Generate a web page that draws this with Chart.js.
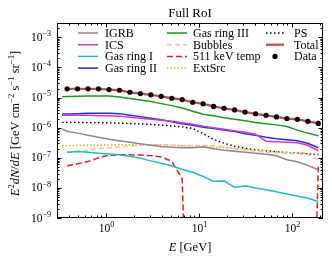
<!DOCTYPE html>
<html>
<head>
<meta charset="utf-8">
<script src="https://cdn.jsdelivr.net/npm/chart.js@4.4.0/dist/chart.umd.min.js"></script>
<style>
  html, body { margin: 0; padding: 0; background: #fff; }
  #chart { display: block; }
</style>
</head>
<body>
<canvas id="chart" width="332" height="262"></canvas>
<script>
// energies of the data bins [GeV]
const dataE = [0.385, 0.499, 0.647, 0.838, 1.086, 1.408, 1.825, 2.365, 3.065, 3.97, 5.15, 6.67, 8.65,
  11.2, 14.5, 18.8, 24.4, 31.6, 41.0, 53.1, 68.8, 89.2, 115.6, 149.8, 194];
// model curves are sampled from the left edge plus the bin energies
const modelE = [0.34, ...dataE];

const dataFlux = [1.95e-5, 1.95e-5, 1.95e-5, 1.95e-5, 1.85e-5, 1.75e-5, 1.5e-5, 1.36e-5, 1.23e-5, 1.1e-5, 9.5e-6, 8.6e-6,
  7.0e-6, 6.2e-6, 5.1e-6, 4.4e-6, 3.9e-6, 3.3e-6, 2.9e-6, 2.57e-6, 2.28e-6, 2.0e-6, 1.9e-6, 1.62e-6, 1.39e-6];
const total = [null, 1.95e-5, 1.95e-5, 1.95e-5, 1.95e-5, 1.85e-5, 1.75e-5, 1.5e-5, 1.36e-5, 1.23e-5, 1.1e-5, 9.5e-6, 8.6e-6,
  7.0e-6, 6.2e-6, 5.1e-6, 4.4e-6, 3.9e-6, 3.3e-6, 2.9e-6, 2.57e-6, 2.28e-6, 2.0e-6, 1.9e-6, 1.62e-6, 1.39e-6];
const igrb = [9.1e-7, 7.6e-7, 6.6e-7, 5.6e-7, 4.8e-7, 4.1e-7, 3.69e-7, 3.29e-7, 2.93e-7, 2.61e-7, 2.36e-7, 2.24e-7, 2.15e-7,
  2.15e-7, 2.33e-7, 2.0e-7, 1.78e-7, 1.65e-7, 1.52e-7, 1.41e-7, 1.31e-7, 1.17e-7, 8.6e-8, 7.4e-8, 5.6e-8, 4.0e-8];
const ics = [2.61e-6, 2.61e-6, 2.61e-6, 2.57e-6, 2.51e-6, 2.51e-6, 2.42e-6, 2.24e-6, 2.07e-6, 1.92e-6, 1.78e-6, 1.65e-6, 1.47e-6,
  1.31e-6, 1.12e-6, 1.0e-6, 8.9e-7, 7.9e-7, 7.1e-7, 6.1e-7, 3.55e-7, 3.41e-7, 3.29e-7, 3.16e-7, 2.61e-7, 1.71e-7];
const gasRing1 = [null, 1.52e-7, 1.62e-7, 1.52e-7, 1.41e-7, 1.33e-7, 1.26e-7, 1.12e-7, 9.6e-8, 7.9e-8, 6.6e-8, 5.4e-8, 4.1e-8,
  3.29e-8, 2.38e-8, 1.65e-8, 1.71e-8, 1.04e-8, 1.17e-8, 1.0e-8, 8.7e-9, 7.4e-9, 6.3e-9, 5.4e-9, 4.5e-9, 3.55e-9];
const gasRing2 = [2.86e-6, 2.86e-6, 2.93e-6, 3.0e-6, 3.04e-6, 3.04e-6, 2.93e-6, 2.61e-6, 2.33e-6, 2.07e-6, 1.85e-6, 1.58e-6, 1.36e-6,
  1.21e-6, 1.04e-6, 9.3e-7, 8.3e-7, 7.4e-7, 6.3e-7, 5.6e-7, 4.8e-7, 4.3e-7, 4.0e-7, 3.69e-7, 3.04e-7, 2.15e-7];
const gasRing3 = [1.07e-5, 1.08e-5, 1.10e-5, 1.12e-5, 1.12e-5, 1.12e-5, 1.04e-5, 9.3e-6, 8.3e-6, 7.4e-6, 6.3e-6, 5.4e-6, 4.5e-6,
  3.5e-6, 2.8e-6, 2.47e-6, 2.15e-6, 1.92e-6, 1.69e-6, 1.49e-6, 1.36e-6, 1.24e-6, 1.10e-6, 8.3e-7, 6.6e-7, 5.4e-7];
const bubbles = [null, 1.52e-7, 1.65e-7, 1.78e-7, 2.0e-7, 2.15e-7, 2.33e-7, 2.45e-7, 2.61e-7, 2.71e-7, 2.71e-7, 2.61e-7, 2.51e-7,
  2.42e-7, 2.61e-7, 2.51e-7, 2.33e-7, 2.0e-7, 1.78e-7, 1.65e-7, 1.52e-7, 1.47e-7, 1.41e-7, 1.36e-7, 1.26e-7, 8.6e-8];
const kev511 = [null, 5.4e-8, 6.3e-8, 7.5e-8, 1.0e-7, 1.21e-7, 1.26e-7, 1.26e-7, 1.23e-7, 1.18e-7, 1.07e-7, 7.6e-8, 2.0e-8,
  1e-20, 1e-20, 1e-20, 1e-20, 1e-20, 1e-20, 1e-20, 1e-20, 1e-20, 1e-20, 1e-20, 1e-20, 5e-8];
const extSrc = [2.47e-7, 2.51e-7, 2.55e-7, 2.59e-7, 2.63e-7, 2.67e-7, 2.71e-7, 2.71e-7, 2.71e-7, 2.71e-7, 2.71e-7, 2.61e-7, 2.51e-7,
  2.42e-7, 2.33e-7, 2.24e-7, 2.15e-7, 2.07e-7, 1.92e-7, 1.78e-7, 1.71e-7, 1.58e-7, 1.52e-7, 1.44e-7, 1.39e-7, 1.33e-7];
const ps = [1.5e-6, 1.5e-6, 1.5e-6, 1.47e-6, 1.47e-6, 1.45e-6, 1.41e-6, 1.38e-6, 1.34e-6, 1.28e-6, 1.21e-6, 1.14e-6, 1.06e-6,
  9.4e-7, 6.3e-7, 4.1e-7, 3.04e-7, 2.42e-7, 2.07e-7, 1.85e-7, 1.71e-7, 1.58e-7, 1.50e-7, 1.44e-7, 1.36e-7, 1.26e-7];

const xTicks = [1, 10, 100];
const yTicks = [1e-9, 1e-8, 1e-7, 1e-6, 1e-5, 1e-4, 1e-3];
const legendColumns = [
  ["IGRB", "ICS", "Gas ring I", "Gas ring II"],
  ["Gas ring III", "Bubbles", "511 keV temp", "ExtSrc"],
  ["PS", "Total", "Data"],
];

const serif = '"Liberation Serif", "Times New Roman", serif';
const pts = (xs, ys) => xs.map((e, i) => ({ x: e, y: ys[i] }));

const line = (label, ys, color, extra) => Object.assign({
  label: label,
  data: pts(modelE, ys),
  borderColor: color,
  backgroundColor: color,
  borderWidth: 1.5,
  pointRadius: 0,
  fill: false,
  tension: 0,
  order: 5,
}, extra || {});

// draws a run of text pieces: {t, it (italic), sup (superscript)}
function richWidth(ctx, parts, size) {
  let w = 0;
  parts.forEach(p => {
    const s = p.sup ? size * 0.7 : size;
    ctx.font = (p.it ? "italic " : "") + s + "px " + serif;
    w += ctx.measureText(p.t).width;
  });
  return w;
}
function drawRich(ctx, parts, x, y, size, align) {
  const w = richWidth(ctx, parts, size);
  let cx = align === "right" ? x - w : align === "center" ? x - w / 2 : x;
  ctx.textAlign = "left";
  ctx.textBaseline = "alphabetic";
  parts.forEach(p => {
    const s = p.sup ? size * 0.7 : size;
    ctx.font = (p.it ? "italic " : "") + s + "px " + serif;
    ctx.fillText(p.t, cx, p.sup ? y - size * 0.4 : y);
    cx += ctx.measureText(p.t).width;
  });
}
const supNum = n => String(n).replace("-", "\u2212");

const framePlugin = {
  id: "frame",
  afterDatasetsDraw(chart) {
    const { ctx, chartArea: a, scales } = chart;
    const xs = scales.x, ys = scales.y;
    ctx.save();
    ctx.strokeStyle = "#000";
    ctx.fillStyle = "#000";
    ctx.lineWidth = 1;

    // ticks, pointing inwards on all four sides
    const tick = (px, len, vertical) => {
      ctx.beginPath();
      const p = Math.round(px) + 0.5;
      if (vertical) {
        ctx.moveTo(p, a.bottom); ctx.lineTo(p, a.bottom - len);
        ctx.moveTo(p, a.top); ctx.lineTo(p, a.top + len);
      } else {
        ctx.moveTo(a.left, p); ctx.lineTo(a.left + len, p);
        ctx.moveTo(a.right, p); ctx.lineTo(a.right - len, p);
      }
      ctx.stroke();
    };
    [0.1, 1, 10, 100].forEach(d => {
      for (let m = 1; m < 10; m++) {
        const v = m * d;
        if (v < xs.min || v > xs.max) continue;
        tick(xs.getPixelForValue(v), m === 1 ? 4.5 : 2.5, true);
      }
    });
    for (let k = -9; k <= -3; k++) {
      for (let m = 1; m < 10; m++) {
        const v = m * Math.pow(10, k);
        if (v < ys.min || v > ys.max * 1.0001) continue;
        tick(ys.getPixelForValue(v), m === 1 ? 4.5 : 2.5, false);
      }
    }
    ctx.strokeRect(Math.round(a.left) + 0.5, Math.round(a.top) + 0.5,
      Math.round(a.right - a.left) - 1, Math.round(a.bottom - a.top) - 1);

    // tick labels
    xTicks.forEach(v => {
      const e = Math.round(Math.log10(v));
      drawRich(ctx, [{ t: "10" }, { t: supNum(e), sup: true }], xs.getPixelForValue(v) + 1, a.bottom + 14, 11.5, "center");
    });
    yTicks.forEach(v => {
      const e = Math.round(Math.log10(v));
      drawRich(ctx, [{ t: "10" }, { t: supNum(e), sup: true }], a.left - 6, ys.getPixelForValue(v) + 3.5, 11.5, "right");
    });

    // axis titles and plot title
    drawRich(ctx, [{ t: "E", it: true }, { t: " [GeV]" }], (a.left + a.right) / 2, 251, 12.5, "center");
    drawRich(ctx, [{ t: "Full RoI" }], (a.left + a.right) / 2, 17, 13, "center");
    ctx.save();
    ctx.translate(19, (a.top + a.bottom) / 2 + 3);
    ctx.rotate(-Math.PI / 2);
    drawRich(ctx, [
      { t: "E", it: true }, { t: "2", sup: true }, { t: "dN", it: true }, { t: "/" }, { t: "dE", it: true },
      { t: " [GeV cm" }, { t: "\u22122", sup: true }, { t: " s" }, { t: "\u22121", sup: true },
      { t: " sr" }, { t: "\u22121", sup: true }, { t: "]" },
    ], 0, 0, 12.5, "center");
    ctx.restore();

    // legend in three columns
    const colX = [[78, 98, 105], [167, 187, 193], [266, 284, 294]];
    const rowY = [33, 44.7, 56.4, 68.1];
    legendColumns.forEach((col, ci) => {
      col.forEach((label, ri) => {
        const ds = chart.data.datasets.find(d => d.label === label);
        const [x0, x1, tx] = colX[ci];
        const yy = rowY[ri];
        if (label === "Data") {
          ctx.beginPath();
          ctx.arc((x0 + x1) / 2, yy, 2.6, 0, Math.PI * 2);
          ctx.fillStyle = "#000";
          ctx.fill();
        } else {
          ctx.save();
          ctx.strokeStyle = ds.borderColor;
          ctx.lineWidth = ds.borderWidth;
          ctx.setLineDash(ds.borderDash || []);
          ctx.beginPath();
          ctx.moveTo(x0, yy); ctx.lineTo(x1, yy);
          ctx.stroke();
          ctx.restore();
        }
        ctx.fillStyle = "#000";
        drawRich(ctx, [{ t: label }], tx, yy + 4, 12, "left");
      });
    });
    ctx.restore();
  },
};

new Chart(document.getElementById("chart"), {
  type: "line",
  data: {
    datasets: [
      {
        label: "Data",
        data: pts(dataE, dataFlux),
        showLine: false,
        pointRadius: 2.6,
        pointBorderWidth: 0,
        pointBackgroundColor: "#000",
        borderColor: "#000",
        order: 0,
      },
      line("Total", total, "#b9514d", { borderWidth: 2.3, order: 1 }),
      line("IGRB", igrb, "#8a8a8a"),
      line("ICS", ics, "#c83cc8"),
      line("Gas ring I", gasRing1, "#22bcbc"),
      line("Gas ring II", gasRing2, "#2a2ae8"),
      line("Gas ring III", gasRing3, "#1f961f"),
      line("Bubbles", bubbles, "#f7b8c4", { borderDash: [5, 3] }),
      line("511 keV temp", kev511, "#ee1c1c", { borderDash: [6, 3] }),
      line("ExtSrc", extSrc, "#c8c400", { borderDash: [1.5, 2] }),
      line("PS", ps, "#000000", { borderDash: [1.5, 2.5], borderWidth: 1.4 }),
    ],
  },
  options: {
    responsive: false,
    animation: false,
    devicePixelRatio: 1,
    layout: { padding: { left: 57, right: 9, top: 23, bottom: 44 } },
    plugins: { legend: { display: false }, title: { display: false }, tooltip: { enabled: false } },
    scales: {
      x: { type: "logarithmic", min: 0.341, max: 218, display: false },
      y: { type: "logarithmic", min: 1e-9, max: 3e-3, display: false },
    },
  },
  plugins: [framePlugin],
});
</script>
</body>
</html>
